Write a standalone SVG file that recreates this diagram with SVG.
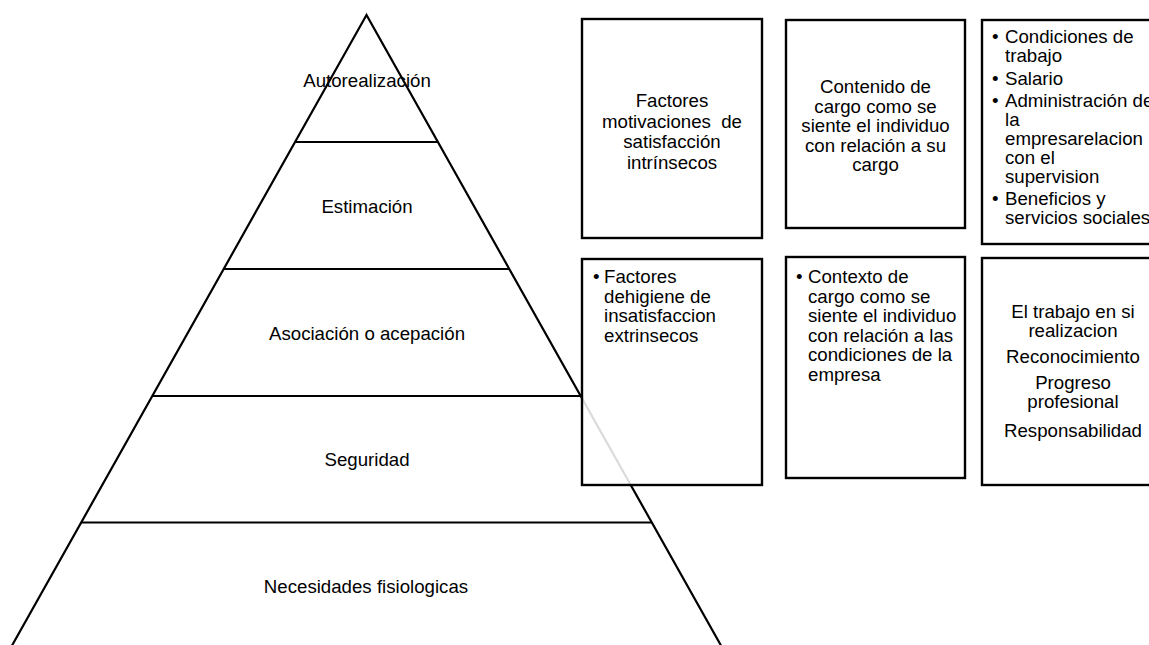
<svg xmlns="http://www.w3.org/2000/svg" width="1149" height="645" viewBox="0 0 1149 645">
<style>
  text { font-family: "Liberation Sans", Arial, sans-serif; font-size: 18.67px; fill: #000; }
  .c { text-anchor: middle; }
  .pyr { fill: none; stroke: #000; stroke-width: 2.2; stroke-linejoin: miter; }
  .box { fill: #fff; fill-opacity: 0.86; stroke: #000; stroke-width: 2.4; }
</style>
<rect width="1149" height="645" fill="#fff"/>
<g id="pyramid">
  <polygon class="pyr" points="366.5,15 9.5,650 723.5,650"/>
  <line class="pyr" x1="295" y1="142" x2="438" y2="142"/>
  <line class="pyr" x1="224" y1="269" x2="509" y2="269"/>
  <line class="pyr" x1="152" y1="396" x2="581" y2="396"/>
  <line class="pyr" x1="81" y1="522.5" x2="652" y2="522.5"/>
</g>
<g id="level-autorealizacion"><text class="c" x="367" y="87">Autorealización</text></g>
<g id="level-estimacion"><text class="c" x="367" y="213">Estimación</text></g>
<g id="level-asociacion"><text class="c" x="367" y="340">Asociación o acepación</text></g>
<g id="level-seguridad"><text class="c" x="367" y="466">Seguridad</text></g>
<g id="level-necesidades"><text class="c" x="366" y="593">Necesidades fisiologicas</text></g>

<g id="box-motivacion">
  <rect class="box" x="582" y="19" width="180" height="219"/>
  <text class="c" x="672" y="107">Factores</text>
  <text class="c" x="672" y="127.5">motivaciones&#160; de</text>
  <text class="c" x="672" y="148">satisfacción</text>
  <text class="c" x="672" y="168.5">intrínsecos</text>
</g>
<g id="box-contenido">
  <rect class="box" x="786" y="20" width="179" height="208"/>
  <text class="c" x="875.5" y="93">Contenido de</text>
  <text class="c" x="875.5" y="112.5">cargo como se</text>
  <text class="c" x="875.5" y="132">siente el individuo</text>
  <text class="c" x="875.5" y="151.5">con relación a su</text>
  <text class="c" x="875.5" y="171">cargo</text>
</g>
<g id="box-condiciones">
  <rect class="box" x="982" y="20" width="182" height="224"/>
  <text x="992" y="43">•</text><text x="1005" y="43">Condiciones de</text>
  <text x="1005" y="62">trabajo</text>
  <text x="992" y="84.5">•</text><text x="1005" y="84.5">Salario</text>
  <text x="992" y="107">•</text><text x="1005" y="107">Administración de</text>
  <text x="1005" y="126">la</text>
  <text x="1005" y="145">empresarelacion</text>
  <text x="1005" y="164">con el</text>
  <text x="1005" y="183">supervision</text>
  <text x="992" y="205">•</text><text x="1005" y="205">Beneficios y</text>
  <text x="1005" y="224">servicios sociales</text>
</g>
<g id="box-higiene">
  <rect class="box" x="582" y="259" width="180" height="226"/>
  <text x="593" y="283">•</text><text x="604" y="283">Factores</text>
  <text x="604" y="302.5">dehigiene de</text>
  <text x="604" y="322">insatisfaccion</text>
  <text x="604" y="341.5">extrinsecos</text>
</g>
<g id="box-contexto">
  <rect class="box" x="786" y="257" width="179" height="221"/>
  <text x="796" y="283">•</text><text x="808" y="283">Contexto de</text>
  <text x="808" y="302.5">cargo como se</text>
  <text x="808" y="322">siente el individuo</text>
  <text x="808" y="341.5">con relación a las</text>
  <text x="808" y="361">condiciones de la</text>
  <text x="808" y="380.5">empresa</text>
</g>
<g id="box-trabajo">
  <rect class="box" x="982" y="258" width="182" height="227"/>
  <text class="c" x="1073" y="318">El trabajo en si</text>
  <text class="c" x="1073" y="337">realizacion</text>
  <text class="c" x="1073" y="363">Reconocimiento</text>
  <text class="c" x="1073" y="389">Progreso</text>
  <text class="c" x="1073" y="408">profesional</text>
  <text class="c" x="1073" y="437">Responsabilidad</text>
</g>
</svg>
